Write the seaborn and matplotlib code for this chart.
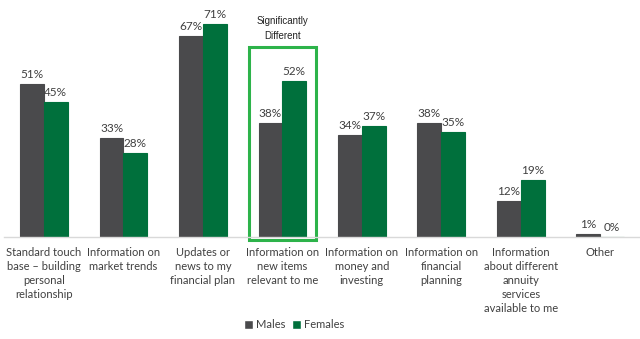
import matplotlib
matplotlib.use("Agg")
import matplotlib.pyplot as plt
import seaborn as sns
import pandas as pd
from matplotlib.patches import Rectangle

categories = [
    "Standard touch\nbase \u2013 building\npersonal\nrelationship",
    "Information on\nmarket trends",
    "Updates or\nnews to my\nfinancial plan",
    "Information on\nnew items\nrelevant to me",
    "Information on\nmoney and\ninvesting",
    "Information on\nfinancial\nplanning",
    "Information\nabout different\nannuity\nservices\navailable to me",
    "Other",
]
males = [51, 33, 67, 38, 34, 38, 12, 1]
females = [45, 28, 71, 52, 37, 35, 19, 0]
series = ["Males", "Females"]
colors = ["#4a4a4c", "#00703c"]

df = pd.DataFrame({
    "category": categories * 2,
    "value": males + females,
    "series": [series[0]] * len(categories) + [series[1]] * len(categories),
})

sns.set_theme(style="white")
plt.rcParams["font.family"] = ["Lato", "DejaVu Sans"]

fig = plt.figure(figsize=(6.4, 3.39), dpi=100)
ax = fig.add_axes([0.0066, 0.3009, 0.9934, 0.6637])

sns.barplot(data=df, x="category", y="value", hue="series", order=categories,
            hue_order=series, palette=colors, width=0.6, ax=ax, saturation=1,
            legend=True)

for cont, col in zip(ax.containers, colors):
    for p in cont:
        p.set_edgecolor(col)
        p.set_linewidth(0.8)
    ax.bar_label(cont, fmt="%d%%", padding=3, fontsize=8.5, color="#404040")

ax.set_ylim(0, 75)
ax.set_xlim(-0.5, 7.5)
ax.set_xlabel("")
ax.set_ylabel("")
ax.set_yticks([])
ax.tick_params(axis="x", length=0, pad=7, labelsize=8, labelcolor="#404040")
for lab in ax.get_xticklabels():
    lab.set_linespacing(1.35)
for s in ["top", "left", "right"]:
    ax.spines[s].set_visible(False)
ax.spines["bottom"].set_color("#d9d9d9")
ax.spines["bottom"].set_linewidth(1)

ax.add_patch(Rectangle((3 - 0.42, -1), 0.84, 64.3, fill=False,
                       edgecolor="#2db34a", linewidth=2.2, clip_on=False))
ax.text(3, 69.5, "Significantly\nDifferent", ha="center", va="center",
        fontsize=7, color="#222222", family=["Liberation Sans", "DejaVu Sans"],
        linespacing=1.6)

leg = ax.legend(loc="center", bbox_to_anchor=(0.456, -0.39), ncol=2,
                frameon=False, fontsize=8, handlelength=0.8, handleheight=0.8,
                handletextpad=0.3, columnspacing=0.6)
for t in leg.get_texts():
    t.set_color("#404040")

fig.savefig("out.png", dpi=100)
